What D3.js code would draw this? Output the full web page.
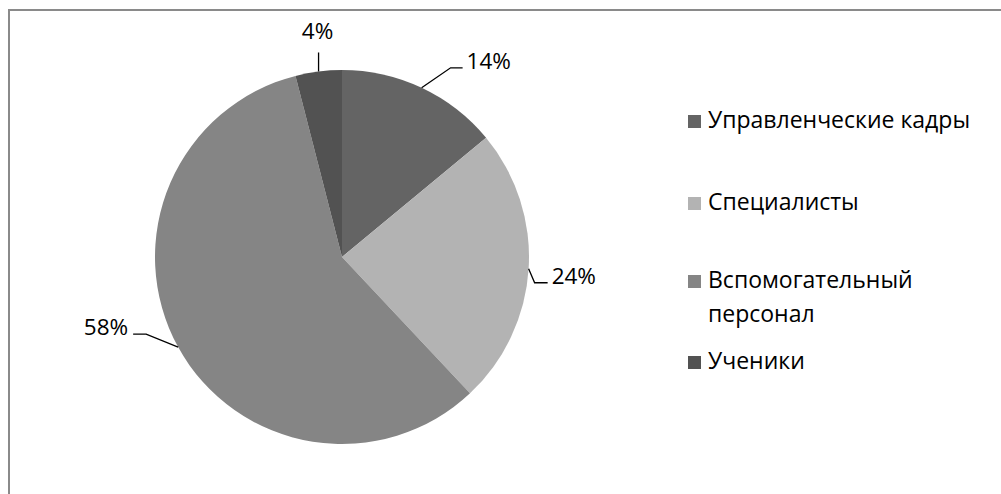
<!DOCTYPE html>
<html><head><meta charset="utf-8">
<script src="https://cdn.jsdelivr.net/npm/d3@7"></script>
<style>html,body{margin:0;padding:0;background:#fff;}svg{display:block;}</style>
</head><body>
<svg id="c" width="1001" height="494"></svg>
<script>
const categories = ["Управленческие кадры", "Специалисты", "Вспомогательный персонал", "Ученики"];
const legendLines = [["Управленческие кадры"], ["Специалисты"], ["Вспомогательный", "персонал"], ["Ученики"]];
const values = [14, 24, 58, 4];
const labels = ["14%", "24%", "58%", "4%"];
const colors = ["#646464", "#b3b3b3", "#858585", "#525252"];
// leader layout (elbow offset from arc point, tail length)
const elbow = [[29, -20], [6, 14], [-32, -13], [0, -19]];
const tail = [12, 13, -13, 0];

const svg = d3.select("#c");
const font = "'Open Sans', 'Liberation Sans', sans-serif";
svg.append("rect").attr("x", 9).attr("y", 10).attr("width", 1100).attr("height", 700)
  .attr("fill", "#fff").attr("stroke", "#8a8a8a").attr("stroke-width", 2);

const cx = 342, cy = 257, r = 187;
const pie = d3.pie().sort(null).value(d => d)(values);
const arc = d3.arc().innerRadius(0).outerRadius(r);
const g = svg.append("g").attr("transform", `translate(${cx},${cy})`);
g.selectAll("path").data(pie).join("path").attr("d", arc).attr("fill", (d, i) => colors[i]);

const fs = 22.5;
pie.forEach((d, i) => {
  const a = (d.startAngle + d.endAngle) / 2;
  const p0 = [r * Math.sin(a), -r * Math.cos(a)];
  const p1 = [p0[0] + elbow[i][0], p0[1] + elbow[i][1]];
  const p2 = [p1[0] + tail[i], p1[1]];
  g.append("polyline").attr("points", [p0, p1, p2].map(p => p.join(",")).join(" "))
    .attr("fill", "none").attr("stroke", "#000").attr("stroke-width", 1.3);
  const t = g.append("text").text(labels[i]).attr("font-family", font).attr("font-size", fs).attr("fill", "#000");
  if (tail[i] > 0) t.attr("x", p2[0] + 4).attr("y", p2[1] + 1).attr("text-anchor", "start");
  else if (tail[i] < 0) t.attr("x", p2[0] - 5).attr("y", p2[1] + 1).attr("text-anchor", "end");
  else t.attr("x", p2[0] - 1).attr("y", p2[1] - 13).attr("text-anchor", "middle");
});

// legend
const lg = svg.append("g");
const rowY = [128, 210, 288, 369];
legendLines.forEach((lines, i) => {
  lg.append("rect").attr("x", 688).attr("y", rowY[i] - 13).attr("width", 13).attr("height", 13).attr("fill", colors[i]);
  const t = lg.append("text").attr("x", 708).attr("y", rowY[i]).attr("font-family", font).attr("font-size", 23).attr("fill", "#000");
  lines.forEach((ln, j) => t.append("tspan").attr("x", 708).attr("dy", j === 0 ? 0 : 34).text(ln));
});
</script>
</body></html>
